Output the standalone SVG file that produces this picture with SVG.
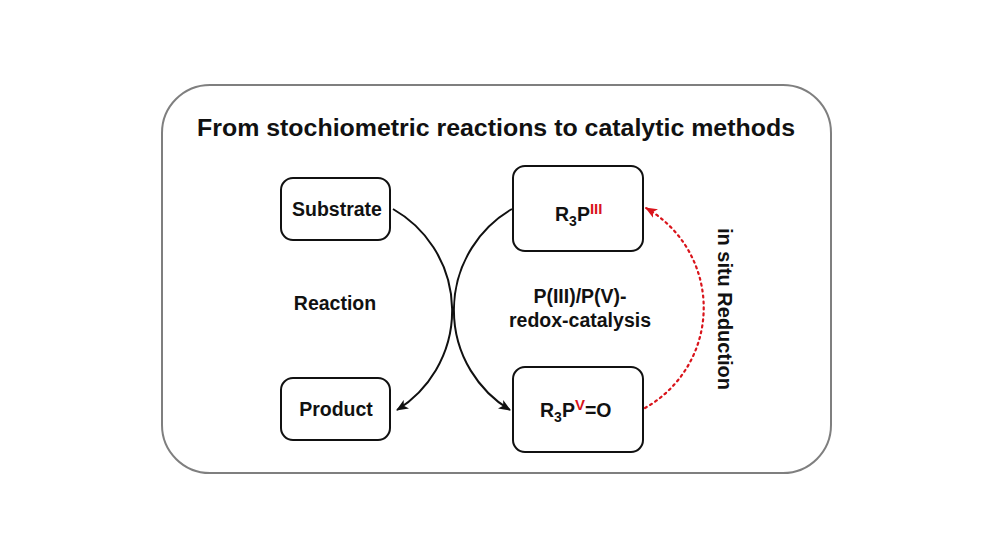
<svg xmlns="http://www.w3.org/2000/svg" width="992" height="559" viewBox="0 0 992 559">
<style>
.t{font-family:"Liberation Sans",Arial,sans-serif;font-weight:bold;fill:#111;}
.box{fill:#fff;stroke:#111;stroke-width:2;}
.conn{fill:none;stroke:#111;stroke-width:2;}
.red{fill:none;stroke:#d9141b;stroke-width:2.2;stroke-dasharray:2 4;stroke-linecap:round;}
</style>
<defs>
<marker id="ah" viewBox="0 0 12 10" refX="11" refY="5" markerWidth="12" markerHeight="10" markerUnits="userSpaceOnUse" orient="auto">
<path d="M0,0 L12,5 L0,10 L3,5 Z" fill="#111"/>
</marker>
<marker id="ahr" viewBox="0 0 12 10" refX="11" refY="5" markerWidth="12" markerHeight="10" markerUnits="userSpaceOnUse" orient="auto">
<path d="M0,0 L12,5 L0,10 L3,5 Z" fill="#d9141b"/>
</marker>
</defs>
<rect width="992" height="559" fill="#fff"/>
<g id="frame">
<rect x="162" y="85" width="669" height="388" rx="48" ry="48" fill="#fff" stroke="#7f7f7f" stroke-width="2"/>
<text class="t" x="496" y="136" text-anchor="middle" font-size="23" textLength="598" lengthAdjust="spacingAndGlyphs">From stochiometric reactions to catalytic methods</text>
</g>
<g id="connectors">
<path class="conn" d="M393,209 A117,117 0 0 1 397,410" marker-end="url(#ah)"/>
<path class="conn" d="M512,209 A117,117 0 0 0 510,410" marker-end="url(#ah)"/>
<path class="red" d="M645,408 A115,115 0 0 0 646,208" marker-end="url(#ahr)"/>
</g>
<g id="substrate">
<rect class="box" x="281" y="178" width="109" height="62" rx="12"/>
<text class="t" x="337" y="216" text-anchor="middle" font-size="19.5">Substrate</text>
</g>
<g id="product">
<rect class="box" x="281" y="378" width="109" height="62" rx="12"/>
<text class="t" x="336" y="416" text-anchor="middle" font-size="19.5">Product</text>
</g>
<g id="r3p3">
<rect class="box" x="513" y="166" width="130" height="85" rx="12"/>
<text class="t" x="555" y="221" font-size="19.5">R<tspan font-size="14" dy="5">3</tspan><tspan dy="-5">P</tspan><tspan fill="#d9141b" font-size="15" dy="-7">III</tspan></text>
</g>
<g id="r3p5">
<rect class="box" x="513" y="367" width="130" height="85" rx="12"/>
<text class="t" x="540" y="417" font-size="19.5">R<tspan font-size="14" dy="5">3</tspan><tspan dy="-5">P</tspan><tspan fill="#d9141b" font-size="15" dy="-7">V</tspan><tspan dy="7">=O</tspan></text>
</g>
<g id="labels">
<text class="t" x="335" y="310" text-anchor="middle" font-size="19.5">Reaction</text>
<text class="t" x="580" y="303" text-anchor="middle" font-size="19.5">P(III)/P(V)-</text>
<text class="t" x="580" y="327" text-anchor="middle" font-size="19.5">redox-catalysis</text>
<text class="t" transform="translate(718,309) rotate(90)" text-anchor="middle" font-size="19.5" textLength="162" lengthAdjust="spacingAndGlyphs">in situ Reduction</text>
</g>
</svg>
